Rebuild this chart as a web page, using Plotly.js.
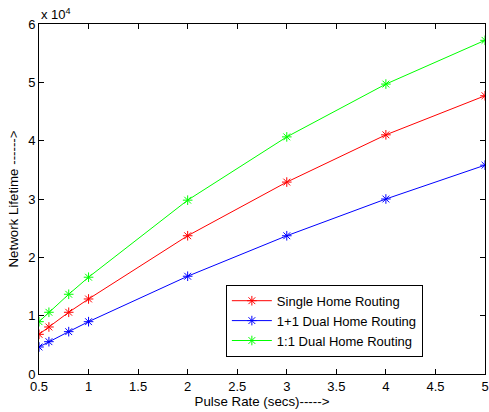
<!DOCTYPE html>
<html><head><meta charset="utf-8">
<script src="https://cdn.plot.ly/plotly-3.0.1.min.js"></script>
<style>body{margin:0;padding:0;background:#fff}#chart{width:489px;height:412px}</style>
</head><body><div id="chart"></div>
<script>
const pulseRate = [0.5, 0.6, 0.8, 1, 2, 3, 4, 5];
const singleHome = [6800, 8060, 10580, 12860, 23700, 32900, 41000, 47700];
const dualHome11 = [4630, 5540, 7260, 8970, 16760, 23700, 30000, 35800];
const dualHome1to1 = [8970, 10580, 13670, 16590, 29800, 40650, 49700, 57200];
const yTickVals = [0, 10000, 20000, 30000, 40000, 50000, 60000];
const yTickText = ['0','1','2','3','4','5','6'];
const xTickVals = [0.5,1,1.5,2,2.5,3,3.5,4,4.5,5];
const xTickText = ['0.5','1','1.5','2','2.5','3','3.5','4','4.5','5'];

const mk = (name, y, color) => ({
  x: pulseRate, y: y, name: name, type: 'scatter', mode: 'lines+markers',
  line: {color: color, width: 1},
  marker: {symbol: 'asterisk-open', size: 8, color: color, line: {color: color, width: 1}}
});
const data = [
  mk('Single Home Routing', singleHome, '#ff0000'),
  mk('1+1 Dual Home Routing', dualHome11, '#0000ff'),
  mk('1:1 Dual Home Routing', dualHome1to1, '#00ff00')
];
const font = {family: 'Liberation Sans, Arial, sans-serif', size: 13, color: '#000'};
const layout = {
  width: 489, height: 412,
  margin: {l: 39, r: 4, t: 24, b: 38},
  paper_bgcolor: '#fff', plot_bgcolor: '#fff',
  font: font,
  showlegend: true,
  legend: {x: 0.419, y: 0.255, xanchor: 'left', yanchor: 'top',
    bgcolor: '#fff', bordercolor: '#000', borderwidth: 1, itemwidth: 40,
    font: {family: font.family, size: 13, color: '#000'}, tracegroupgap: 0},
  xaxis: {range: [0.5, 5], tickvals: xTickVals, ticktext: xTickText,
    ticks: 'inside', ticklen: 5, tickcolor: '#000', mirror: 'ticks',
    showline: true, linecolor: '#000', linewidth: 1, showgrid: false, zeroline: false,
    tickfont: {size: 13}, automargin: false,
    title: {text: 'Pulse Rate (secs)----->', font: {size: 13.3}, standoff: 2}},
  yaxis: {range: [0, 60000], tickvals: yTickVals, ticktext: yTickText,
    ticks: 'inside', ticklen: 5, tickcolor: '#000', mirror: 'ticks',
    showline: true, linecolor: '#000', linewidth: 1, showgrid: false, zeroline: false,
    tickfont: {size: 13}, automargin: false,
    title: {text: 'Network Lifetime ------>', font: {size: 13.3}, standoff: 6}},
  annotations: [{text: 'x 10<sup>4</sup>', xref: 'paper', yref: 'paper', x: 0, y: 1,
    xanchor: 'left', yanchor: 'bottom', showarrow: false, yshift: 0, font: {size: 13}}]
};
Plotly.newPlot('chart', data, layout, {displayModeBar: false, staticPlot: true});
</script></body></html>
